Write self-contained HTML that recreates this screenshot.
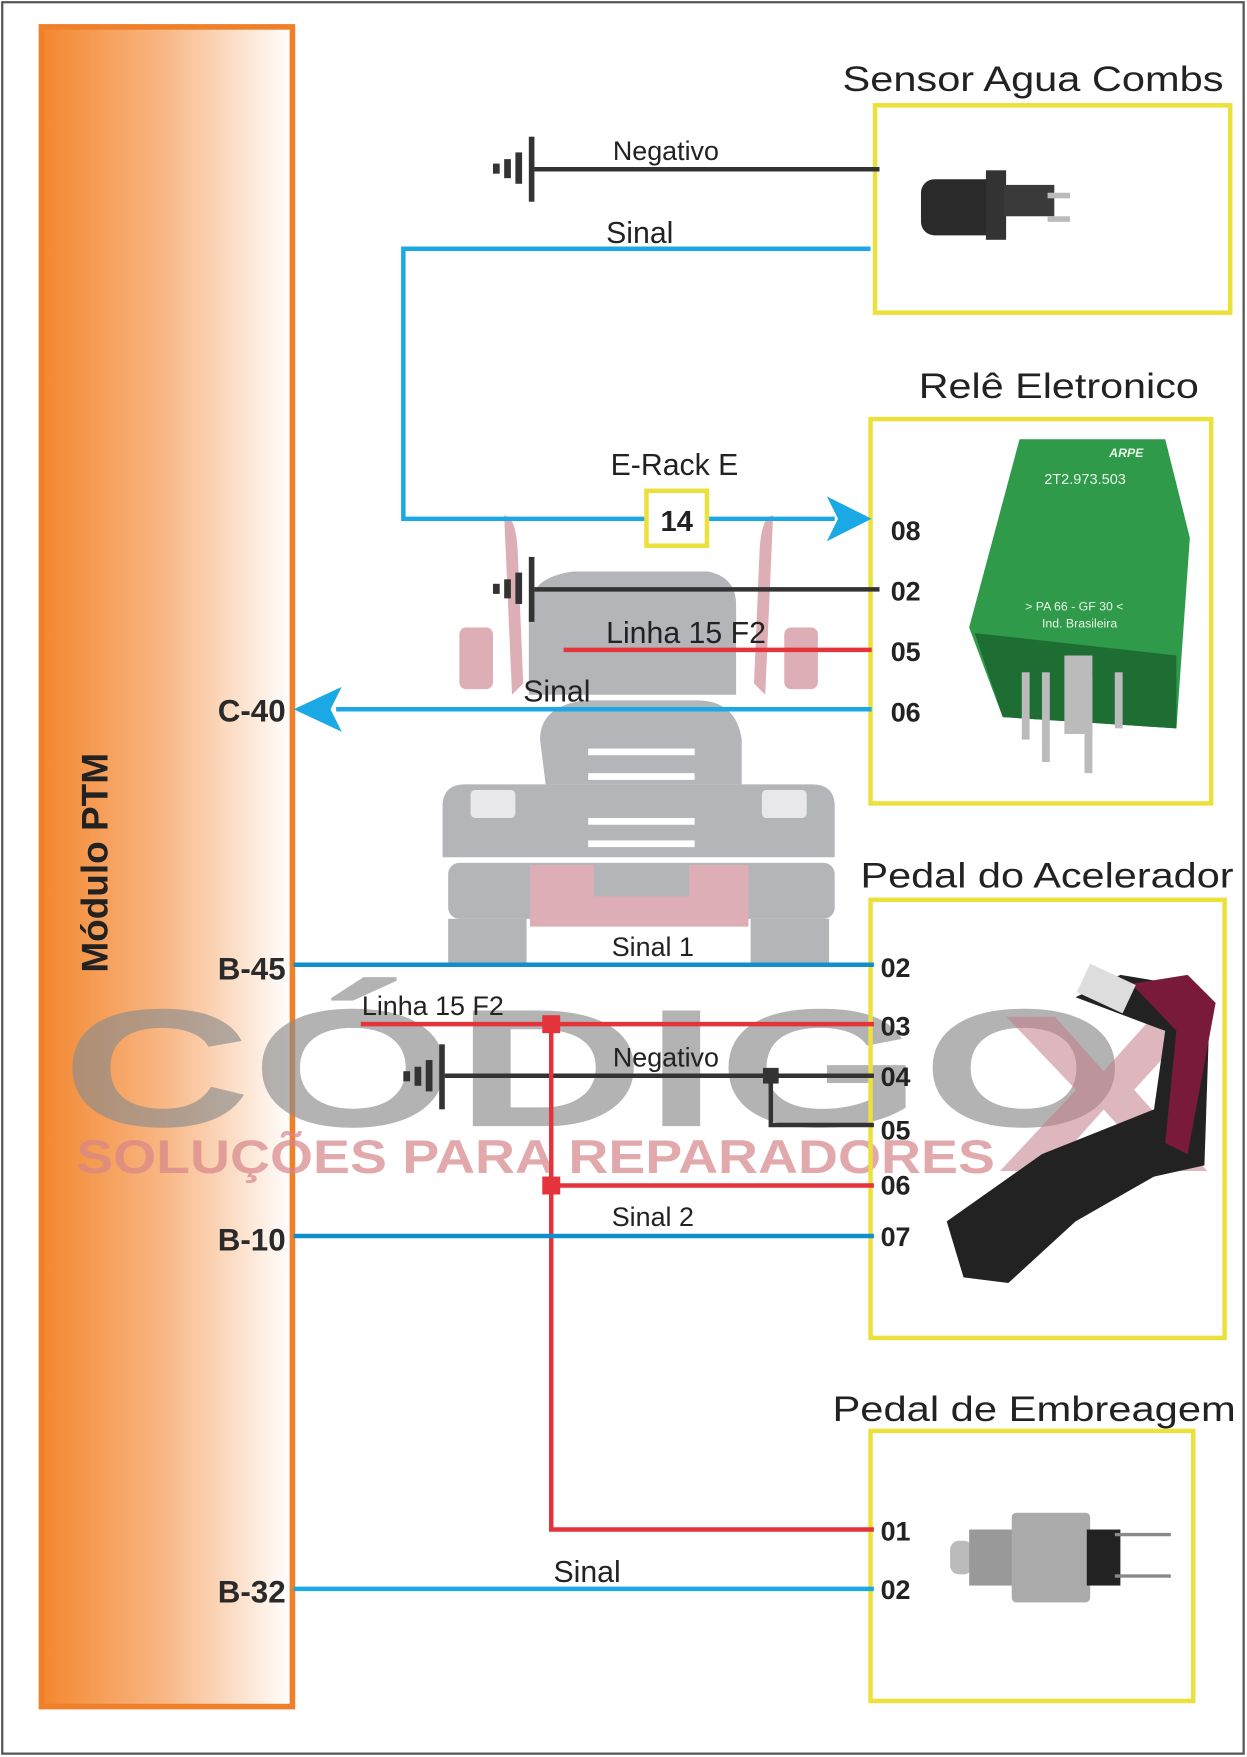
<!DOCTYPE html>
<html><head><meta charset="utf-8"><style>
html,body{margin:0;padding:0;background:#fff}
svg{display:block}
text{font-family:"Liberation Sans",Arial,sans-serif}
</style></head><body>
<svg width="1247" height="1757" viewBox="0 0 1113 1568" preserveAspectRatio="none" xmlns="http://www.w3.org/2000/svg">
<defs>
<linearGradient id="og" x1="0" x2="1" y1="0" y2="0">
<stop offset="0" stop-color="#f3872e"/><stop offset="0.5" stop-color="#f8b887"/><stop offset="1" stop-color="#fff"/>
</linearGradient>
</defs>
<rect x="0" y="0" width="1113" height="1568" fill="#fff"/>
<rect x="2" y="2" width="1108" height="1563" fill="none" stroke="#555" stroke-width="2"/>

<!-- module -->
<rect x="37" y="24" width="224" height="1499" fill="url(#og)" stroke="#f07f2a" stroke-width="5"/>

<!-- watermark truck -->
<g opacity="0.85">
<path d="M450 460 q10 0 12 30 l5 120 -10 10 z" fill="#d8a0aa"/>
<path d="M690 460 q-10 0 -12 30 l-5 120 10 10 z" fill="#d8a0aa"/>
<rect x="410" y="560" width="30" height="55" rx="6" fill="#d8a0aa"/>
<rect x="700" y="560" width="30" height="55" rx="6" fill="#d8a0aa"/>
<path d="M472 545 q0 -30 40 -35 l120 0 q25 5 25 30 l0 80 -185 0 z" fill="#a8a9ad"/>
<path d="M487 700 l-5 -40 q0 -30 40 -35 l100 0 q35 0 40 35 l0 40 z" fill="#a8a9ad"/>
<path d="M415 700 l310 0 q20 0 20 20 l0 45 -350 0 0 -45 q0 -20 20 -20z" fill="#a8a9ad"/>
<rect x="400" y="770" width="345" height="50" rx="10" fill="#a8a9ad"/>
<rect x="400" y="820" width="70" height="40" fill="#a8a9ad"/>
<rect x="670" y="820" width="70" height="40" fill="#a8a9ad"/>
<path d="M473 772 l195 0 0 55 -195 0z M530 772 l0 28 85 0 0 -28" fill="#d8a0aa"/>
<rect x="420" y="705" width="40" height="25" rx="4" fill="#fff" opacity="0.7"/>
<rect x="680" y="705" width="40" height="25" rx="4" fill="#fff" opacity="0.7"/>
<g fill="#fff"><rect x="525" y="730" width="95" height="6"/><rect x="525" y="750" width="95" height="6"/><rect x="525" y="668" width="95" height="6"/><rect x="525" y="690" width="95" height="6"/></g>
</g>
<text x="55" y="1005" font-size="150" font-weight="bold" fill="#8c8c8c" opacity="0.65" textLength="950" lengthAdjust="spacingAndGlyphs">CÓDIGO</text>
<text x="890" y="1045" font-size="200" font-weight="bold" fill="#c47b8a" opacity="0.55" textLength="190" lengthAdjust="spacingAndGlyphs">X</text>
<text x="68" y="1047" font-size="42" font-weight="bold" fill="#d7868a" opacity="0.7" textLength="820" lengthAdjust="spacingAndGlyphs">SOLUÇÕES PARA REPARADORES</text>

<text transform="translate(96,770) rotate(-90)" text-anchor="middle" font-size="33" font-weight="bold" fill="#222">Módulo PTM</text>
<g font-size="28" font-weight="bold" fill="#2a2a2a" text-anchor="end">
<text x="255" y="644">C-40</text><text x="255" y="874">B-45</text><text x="255" y="1116">B-10</text><text x="255" y="1430">B-32</text>
</g>

<!-- boxes -->
<g fill="none" stroke="#ece03a" stroke-width="4">
<rect x="781" y="94" width="317" height="185"/>
<rect x="777" y="374" width="304" height="343"/>
<rect x="777" y="803" width="316" height="391"/>
<rect x="777" y="1277" width="288" height="241"/>
</g>
<g font-size="31" fill="#222">
<text x="752" y="81" textLength="340" lengthAdjust="spacingAndGlyphs">Sensor Agua Combs</text>
<text x="820" y="355" textLength="250" lengthAdjust="spacingAndGlyphs">Relê Eletronico</text>
<text x="768" y="792" textLength="333" lengthAdjust="spacingAndGlyphs">Pedal do Acelerador</text>
<text x="743" y="1268" textLength="360" lengthAdjust="spacingAndGlyphs">Pedal de Embreagem</text>
</g>

<!-- grounds -->
<g fill="#333">
<g id="gnd"><rect x="440" y="146" width="6" height="9"/><rect x="450" y="142" width="6" height="17"/><rect x="460" y="136" width="6" height="28"/><rect x="472" y="122" width="5" height="58"/></g>
<use href="#gnd" transform="translate(0,375)"/>
<use href="#gnd" transform="translate(-80,810)"/>
</g>

<!-- wires -->
<g fill="none" stroke-width="4">
<path d="M477 151 H785" stroke="#333"/>
<path d="M777 222 H360 V463 H745" stroke="#1ba9e5"/>
<path d="M477 526 H785" stroke="#333"/>
<path d="M503 580 H778" stroke="#e5333b"/>
<path d="M778 633 H300" stroke="#1ba9e5"/>
<path d="M262 861 H780" stroke="#0f90cc"/>
<path d="M322 914 H780" stroke="#e5333b"/>
<path d="M397 960 H780 M688 960 V1004 H780" stroke="#333"/>
<path d="M492 914 V1365 H780 M492 1058 H780" stroke="#e5333b"/>
<path d="M262 1103 H780" stroke="#0f90cc"/>
<path d="M262 1418 H780" stroke="#1ba9e5"/>
</g>
<polygon points="778,463 738,443 748,463 738,483" fill="#1ba9e5"/>
<polygon points="262,633 305,613 295,633 305,653" fill="#1ba9e5"/>
<rect x="484" y="906" width="16" height="16" fill="#e5333b"/>
<rect x="484" y="1050" width="16" height="16" fill="#e5333b"/>
<rect x="681" y="953" width="14" height="14" fill="#333"/>
<rect x="577" y="438" width="54" height="49" fill="#fff" stroke="#ece03a" stroke-width="4"/>
<text x="604" y="474" font-size="26" font-weight="bold" text-anchor="middle" fill="#222">14</text>

<!-- labels -->
<g font-size="24" fill="#222">
<text x="547" y="143">Negativo</text>
<text x="541" y="217" font-size="27">Sinal</text>
<text x="545" y="424" font-size="27">E-Rack E</text>
<text x="541" y="574" font-size="27">Linha 15 F2</text>
<text x="467" y="626" font-size="27">Sinal</text>
<text x="546" y="853">Sinal 1</text>
<text x="323" y="906">Linha 15 F2</text>
<text x="547" y="952">Negativo</text>
<text x="546" y="1094">Sinal 2</text>
<text x="494" y="1412" font-size="27">Sinal</text>
</g>
<g font-size="24" font-weight="bold" fill="#222">
<text x="795" y="482">08</text><text x="795" y="536">02</text><text x="795" y="590">05</text><text x="795" y="644">06</text>
<text x="786" y="872">02</text><text x="786" y="924">03</text><text x="786" y="969">04</text><text x="786" y="1017">05</text><text x="786" y="1066">06</text><text x="786" y="1112">07</text>
<text x="786" y="1375">01</text><text x="786" y="1427">02</text>
</g>

<!-- sensor image -->
<rect x="822" y="160" width="70" height="50" rx="12" fill="#2a2a2a"/>
<rect x="880" y="152" width="18" height="62" fill="#333"/>
<rect x="896" y="165" width="45" height="28" fill="#3a3a3a"/>
<rect x="935" y="172" width="20" height="5" fill="#bbb"/><rect x="935" y="193" width="20" height="5" fill="#bbb"/>

<!-- relay -->
<path d="M910 392 L1040 392 L1062 480 L1050 650 L895 640 L865 560 Z" fill="#2e9a4a"/>
<path d="M870 565 L1050 585 L1050 650 L895 640 Z" fill="#1e6e34"/>
<g fill="#bbb"><rect x="912" y="600" width="7" height="60"/><rect x="930" y="600" width="7" height="80"/><rect x="950" y="585" width="25" height="70"/><rect x="968" y="605" width="7" height="85"/><rect x="995" y="600" width="7" height="50"/></g>
<g fill="#e8f5e8" font-size="11"><text x="990" y="408" font-weight="bold" font-style="italic">ARPE</text><text x="932" y="432" font-size="13">2T2.973.503</text><text x="915" y="545">&gt; PA 66 - GF 30 &lt;</text><text x="930" y="560">Ind. Brasileira</text></g>

<!-- pedal -->
<path d="M960 890 L1000 870 L1060 880 L1080 890 L1075 1040 L1030 1050 L960 1090 L900 1145 L860 1140 L845 1090 L930 1030 L1030 990 L1040 920 Z" fill="#222"/>
<path d="M1010 878 L1060 870 L1085 895 L1060 1030 L1040 1020 L1050 920 Z" fill="#7a1a3a"/>
<rect x="965" y="868" width="45" height="28" fill="#ddd" transform="rotate(25 987 882)"/>

<!-- clutch switch -->
<rect x="848" y="1375" width="20" height="30" rx="8" fill="#bbb"/>
<rect x="865" y="1365" width="40" height="50" fill="#999"/>
<rect x="903" y="1350" width="70" height="80" rx="4" fill="#aaa"/>
<rect x="970" y="1365" width="30" height="50" fill="#222"/>
<rect x="995" y="1368" width="50" height="3" fill="#888"/><rect x="995" y="1405" width="50" height="3" fill="#888"/>
</svg>
</body></html>
